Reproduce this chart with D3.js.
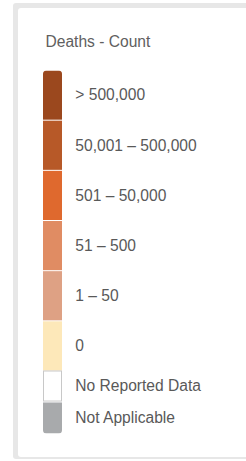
<!DOCTYPE html>
<html>
<head>
<meta charset="utf-8">
<script src="https://cdn.jsdelivr.net/npm/d3@7"></script>
<style>
  html, body { margin: 0; padding: 0; background: #fff; }
  svg { display: block; }
  text { font-family: "Liberation Sans", Arial, sans-serif; }
</style>
</head>
<body>
<svg id="chart" width="246" height="461"></svg>
<script>
const title = "Deaths - Count";
const rangeLabels = ["> 500,000", "50,001 – 500,000", "501 – 50,000", "51 – 500", "1 – 50", "0"];
const rangeColors = ["#9b481e", "#b75928", "#df692e", "#e08c63", "#dea184", "#fde8b9"];
const extraLabels = ["No Reported Data", "Not Applicable"];
const extraColors = ["#ffffff", "#a8aaac"];

const svg = d3.select("#chart");
const W = 246, H = 461;
const FS = 15.6;

// panel frame (shadow-like border)
svg.append("rect").attr("x", 13).attr("y", 3).attr("width", W).attr("height", 456)
  .attr("rx", 3).attr("fill", "#e7e7e7");
svg.append("rect").attr("x", 18).attr("y", 8).attr("width", W).attr("height", 449)
  .attr("rx", 3).attr("fill", "#ffffff");

svg.append("text").attr("x", 45.5).attr("y", 47.3)
  .attr("font-size", FS).attr("fill", "#606060").text(title);

const swX = 43, swW = 19, labX = 75.3;

const yMain = d3.scaleBand().domain(rangeLabels).range([70.5, 370.5]).paddingInner(0.02).paddingOuter(0);
const yExtra = d3.scaleBand().domain(extraLabels).range([370.5, 433.5]).paddingInner(0.03).paddingOuter(0);

const defs = svg.append("defs");
defs.append("clipPath").attr("id", "col")
  .append("rect").attr("x", swX).attr("y", yMain.range()[0]).attr("width", swW)
  .attr("height", yExtra.range()[1] - yMain.range()[0]).attr("rx", 3.5);

const g = svg.append("g").attr("clip-path", "url(#col)");

const mainRows = rangeLabels.map((l, i) => ({label: l, color: rangeColors[i]}));
const extraRows = extraLabels.map((l, i) => ({label: l, color: extraColors[i]}));

g.selectAll("rect.main").data(mainRows).join("rect")
  .attr("class", "main")
  .attr("x", swX).attr("y", d => yMain(d.label))
  .attr("width", swW).attr("height", yMain.bandwidth())
  .attr("fill", d => d.color);

g.selectAll("rect.extra").data(extraRows).join("rect")
  .attr("class", "extra")
  .attr("x", (d, i) => i === 0 ? swX + 0.5 : swX)
  .attr("y", (d, i) => i === 0 ? yExtra(d.label) + 0.5 : yExtra(d.label))
  .attr("width", (d, i) => i === 0 ? swW - 1 : swW)
  .attr("height", (d, i) => i === 0 ? yExtra.bandwidth() - 1 : yExtra.bandwidth())
  .attr("fill", d => d.color)
  .attr("stroke", (d, i) => i === 0 ? "#c8c8c8" : "none")
  .attr("stroke-width", 1);

svg.selectAll("text.lab").data(mainRows).join("text")
  .attr("class", "lab")
  .attr("x", labX).attr("y", d => yMain(d.label) + yMain.bandwidth() / 2 + 5.4)
  .attr("font-size", FS).attr("fill", "#595959").text(d => d.label);

svg.selectAll("text.labx").data(extraRows).join("text")
  .attr("class", "labx")
  .attr("x", labX).attr("y", d => yExtra(d.label) + yExtra.bandwidth() / 2 + 5.4)
  .attr("font-size", FS).attr("fill", "#595959").text(d => d.label);
</script>
</body>
</html>
